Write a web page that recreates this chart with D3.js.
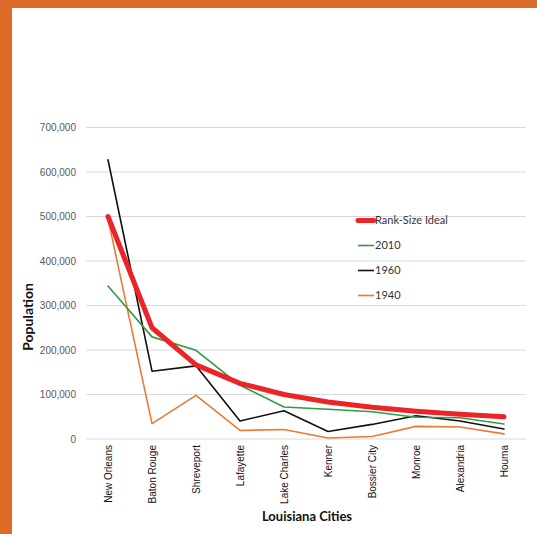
<!DOCTYPE html>
<html>
<head>
<meta charset="utf-8">
<script src="https://cdn.jsdelivr.net/npm/d3@7"></script>
<style>
  body { margin: 0; background: #fff; }
  svg { display: block; font-family: Lato, "Open Sans", sans-serif; }
</style>
</head>
<body>
<script>
var cities = ["New Orleans", "Baton Rouge", "Shreveport", "Lafayette", "Lake Charles",
              "Kenner", "Bossier City", "Monroe", "Alexandria", "Houma"];
var rankSize = [500000, 250000, 166667, 125000, 100000, 83333, 71429, 62500, 55556, 50000];
var pop2010 = [343829, 229493, 199311, 120623, 71993, 66702, 61315, 48815, 47723, 33727];
var pop1960 = [627525, 152419, 164372, 40400, 63392, 17037, 32776, 52219, 40279, 22561];
var pop1940 = [494537, 34719, 98167, 19210, 21207, 2375, 5786, 28309, 27066, 11505];
var yTicks = [0, 100000, 200000, 300000, 400000, 500000, 600000, 700000];

var w = 537, h = 534;

var series = [
  {name: "Rank-Size Ideal", values: rankSize, color: "#ec2327", width: 5},
  {name: "2010", values: pop2010, color: "#2e9c45", width: 1.6},
  {name: "1960", values: pop1960, color: "#111111", width: 1.6},
  {name: "1940", values: pop1940, color: "#ec7a30", width: 1.6}
];

var svg = d3.select("body").append("svg")
  .attr("width", w)
  .attr("height", h);

// orange frame
svg.append("rect").attr("x", 0).attr("y", 0).attr("width", w).attr("height", 8).attr("fill", "#de6a27");
svg.append("rect").attr("x", 0).attr("y", 0).attr("width", 12).attr("height", h).attr("fill", "#de6a27");

var xScale = d3.scaleBand()
  .domain(cities)
  .range([86, 526]);

var yScale = d3.scaleLinear()
  .domain([0, 700000])
  .range([439, 127.5]);

// gridlines
svg.append("g")
  .selectAll("line")
  .data(yTicks)
  .enter()
  .append("line")
  .attr("x1", 86)
  .attr("x2", 526)
  .attr("y1", function(d) { return yScale(d); })
  .attr("y2", function(d) { return yScale(d); })
  .attr("stroke", "#d9d9d9")
  .attr("stroke-width", 1);

// y axis labels
var yAxis = d3.axisLeft(yScale)
  .tickValues(yTicks)
  .tickSize(0)
  .tickPadding(10)
  .tickFormat(d3.format(","));

svg.append("g")
  .attr("transform", "translate(86,0)")
  .call(yAxis)
  .call(function(g) { g.select(".domain").remove(); })
  .selectAll("text")
  .attr("fill", "#595959")
  .style("font-size", "10px");

// x axis labels
var xAxis = d3.axisBottom(xScale).tickSize(0).tickPadding(0);
svg.append("g")
  .attr("transform", "translate(0,439)")
  .call(xAxis)
  .call(function(g) { g.select(".domain").remove(); })
  .selectAll("text")
  .attr("fill", "#111")
  .style("font-size", "10px")
  .attr("text-anchor", "end")
  .attr("transform", "rotate(-90)")
  .attr("x", -6)
  .attr("y", 0)
  .attr("dy", "0.35em");

var line = d3.line()
  .x(function(d, i) { return xScale(cities[i]) + xScale.bandwidth() / 2; })
  .y(function(d) { return yScale(d); });

// draw back to front so red ends on top
series.slice().reverse().forEach(function(s) {
  svg.append("path")
    .datum(s.values)
    .attr("d", line)
    .attr("fill", "none")
    .attr("stroke", s.color)
    .attr("stroke-width", s.width)
    .attr("stroke-linejoin", "round")
    .attr("stroke-linecap", "round");
});

// legend
var legend = svg.append("g");
series.forEach(function(s, i) {
  var ly = 220.5 + i * 25;
  legend.append("line")
    .attr("x1", 358).attr("x2", 374)
    .attr("y1", ly).attr("y2", ly)
    .attr("stroke", s.color)
    .attr("stroke-width", s.width)
    .attr("stroke-linecap", i == 0 ? "round" : "butt");
  legend.append("text")
    .attr("x", 375)
    .attr("y", ly)
    .attr("dy", "0.35em")
    .style("font-size", "11px")
    .attr("fill", "#333")
    .text(s.name);
});

// axis titles
svg.append("text")
  .attr("transform", "translate(33,317) rotate(-90)")
  .style("text-anchor", "middle")
  .style("font-size", "14px")
  .style("font-weight", "bold")
  .attr("fill", "#111")
  .text("Population");

svg.append("text")
  .attr("x", 307)
  .attr("y", 521)
  .style("text-anchor", "middle")
  .style("font-size", "13px")
  .style("font-weight", "bold")
  .attr("fill", "#111")
  .text("Louisiana Cities");
</script>
</body>
</html>
